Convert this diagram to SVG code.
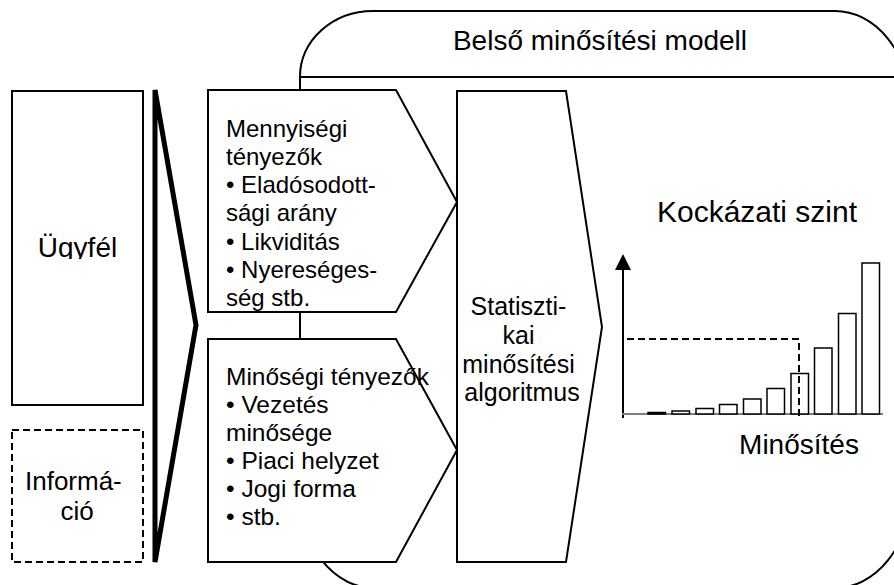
<svg xmlns="http://www.w3.org/2000/svg" width="894" height="585" viewBox="0 0 894 585">
  <defs>
    <style>
      .ln { fill: #fff; stroke: #000; stroke-width: 2; }
      .t { font-family: "Liberation Sans", Arial, sans-serif; fill: #000; }
      .bar { fill: #fff; stroke: #000; stroke-width: 1.5; }
      .dash { fill: none; stroke: #000; stroke-width: 2; stroke-dasharray: 7 4; }
    </style>
    <clipPath id="clipUgyfel">
      <rect x="12" y="200" width="131" height="59"/>
    </clipPath>
    <marker id="arrowUp" viewBox="0 0 16 16" refX="0" refY="8" markerWidth="16" markerHeight="16" markerUnits="userSpaceOnUse" orient="auto">
      <path d="M0,0 L16,8 L0,16 Z" fill="#000"/>
    </marker>
  </defs>
  <rect width="894" height="585" fill="#fff"/>

  <!-- internal rating model frame -->
  <g id="model-frame">
    <path d="M373,11 H835 A75,95 0 0 1 910,106 V493 A75,95 0 0 1 835,588 H374 A74,95 0 0 1 300,493 V77 A73,66 0 0 1 373,11 Z" class="ln"/>
    <line x1="300" y1="77" x2="894" y2="77" stroke="#000" stroke-width="2"/>
    <text class="t" x="600" y="50" font-size="28" text-anchor="middle">Belső minősítési modell</text>
  </g>

  <!-- inputs -->
  <g id="client">
    <rect x="12" y="91" width="131" height="314" class="ln"/>
    <text class="t" x="77.5" y="257" font-size="28" text-anchor="middle" clip-path="url(#clipUgyfel)">Ügyfél</text>
  </g>
  <g id="information">
    <rect x="12" y="430" width="131" height="132" class="dash"/>
    <text class="t" font-size="26" text-anchor="middle">
      <tspan x="77" y="490">Informá-</tspan>
      <tspan x="77" y="520">ció</tspan>
    </text>
  </g>

  <!-- funnel from inputs to factors -->
  <g id="connectors">
    <polygon points="155,90 196,325 155,562" fill="#fff" stroke="#000" stroke-width="5" stroke-linejoin="miter"/>
  </g>

  <!-- quantitative factors -->
  <g id="quantitative">
    <polygon points="208,90 396,90 457,202 396,312 208,312" class="ln"/>
    <text class="t" font-size="24">
      <tspan x="226" y="137">Mennyiségi</tspan>
      <tspan x="226" y="165">tényezők</tspan>
      <tspan x="226" y="193">• Eladósodott-</tspan>
      <tspan x="226" y="221">sági arány</tspan>
      <tspan x="226" y="250">• Likviditás</tspan>
      <tspan x="226" y="278">• Nyereséges-</tspan>
      <tspan x="226" y="306">ség stb.</tspan>
    </text>
  </g>

  <!-- qualitative factors -->
  <g id="qualitative">
    <polygon points="208,339 396,339 457,450 396,562 208,562" class="ln"/>
    <text class="t" font-size="24.5">
      <tspan x="226" y="385">Minőségi tényezők</tspan>
      <tspan x="226" y="413">• Vezetés</tspan>
      <tspan x="226" y="441">minősége</tspan>
      <tspan x="226" y="469">• Piaci helyzet</tspan>
      <tspan x="226" y="497">• Jogi forma</tspan>
      <tspan x="226" y="525">• stb.</tspan>
    </text>
  </g>

  <!-- statistical rating algorithm -->
  <g id="algorithm">
    <polygon points="457,91 566,91 602,327 566,562 457,562" class="ln"/>
    <text class="t" font-size="25" text-anchor="middle">
      <tspan x="522" y="315">Statiszti-</tspan>
      <tspan x="522" y="344">kai</tspan>
      <tspan x="522" y="373">minősítési</tspan>
      <tspan x="522" y="401">algoritmus</tspan>
    </text>
  </g>

  <!-- risk level chart -->
  <g id="chart">
    <text class="t" x="757" y="222" font-size="30" text-anchor="middle">Kockázati szint</text>
    <line x1="623" y1="418" x2="623" y2="270" stroke="#000" stroke-width="2" marker-end="url(#arrowUp)"/>
    <line x1="622" y1="414" x2="883" y2="414" stroke="#808080" stroke-width="2"/>
    <rect class="bar" x="648" y="412.5" width="17.5" height="1.5"/>
    <rect class="bar" x="672" y="411" width="17.5" height="3"/>
    <rect class="bar" x="696" y="408.5" width="17.5" height="5.5"/>
    <rect class="bar" x="719.5" y="404.5" width="17.5" height="9.5"/>
    <rect class="bar" x="743.5" y="399" width="17.5" height="15"/>
    <rect class="bar" x="767" y="388.5" width="17.5" height="25.5"/>
    <rect class="bar" x="791" y="373.5" width="17.5" height="40.5"/>
    <rect class="bar" x="814.5" y="348" width="17.5" height="66"/>
    <rect class="bar" x="838.5" y="313.5" width="17.5" height="100.5"/>
    <rect class="bar" x="862" y="263" width="17.5" height="151"/>
    <polyline class="dash" points="627,339 799,339 799,418"/>
    <text class="t" x="799" y="454" font-size="28" text-anchor="middle">Minősítés</text>
  </g>
</svg>
